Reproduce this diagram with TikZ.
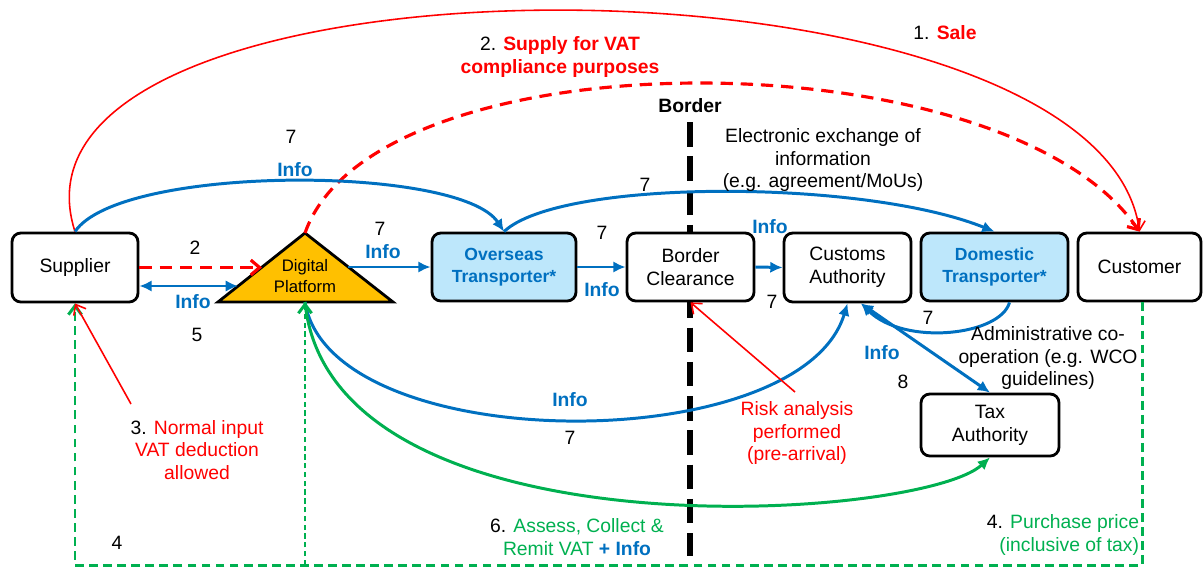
\documentclass[tikz,border=0pt]{standalone}
\usepackage{fontspec}
\setmainfont{Liberation Sans}
\usepackage{xcolor}
\usetikzlibrary{arrows.meta, positioning, calc}

\definecolor{salered}{RGB}{255,0,0}
\definecolor{infoblue}{RGB}{0,112,192}
\definecolor{taxgreen}{RGB}{0,176,80}
\definecolor{platformorange}{RGB}{255,192,0}
\definecolor{carrierblue}{RGB}{189,231,251}

\newcommand{\basefont}{\fontsize{11}{13}\selectfont}
\newcommand{\infotxt}[1]{\textcolor{infoblue}{\textbf{#1}}}
\newcommand{\redtxt}[1]{\textcolor{salered}{#1}}
\newcommand{\greentxt}[1]{\textcolor{taxgreen}{#1}}

\tikzset{
  party/.style={draw, line width=1.6pt, rounded corners=5pt, fill=white, align=center},
  carrier/.style={party, fill=carrierblue, text=infoblue, font=\fontsize{10}{12.5}\selectfont\bfseries},
  infoarrow/.style={draw=infoblue, line width=1.7pt, -{Latex[length=7pt,width=6.5pt]}},
  infoboth/.style={infoarrow, {Latex[length=7pt,width=6.5pt]}-{Latex[length=7pt,width=6.5pt]}},
  salearrow/.style={draw=salered, line width=0.9pt, -{Straight Barb[length=5pt,width=8pt]}},
  supplyarrow/.style={draw=salered, line width=1.8pt, dash pattern=on 7pt off 4.5pt, -{Straight Barb[length=5pt,width=8.5pt]}},
  payarrow/.style={draw=taxgreen, line width=1.7pt, dash pattern=on 5pt off 3pt, -{Straight Barb[length=5pt,width=7.5pt]}},
  remitarrow/.style={draw=taxgreen, line width=1.7pt, -{Latex[length=7pt,width=6.5pt]}},
  infolbl/.style={text=infoblue, font=\basefont\bfseries}
}

\begin{document}
\begin{tikzpicture}[x=0.02cm, y=0.02cm, font=\basefont]
  \useasboundingbox (0,0) rectangle (1203,-568);

  % Border
  \draw[line width=3.4pt, dash pattern=on 14pt off 5.5pt] (690,-122) -- (690,-556);
  \node[font=\basefont\bfseries] (borderlbl) at (690,-106) {Border};

  % Parties
  \node[party, minimum width=2.52cm, minimum height=1.38cm] (sup) at (75,-267.5) {Supplier};
  \node[carrier, minimum width=2.88cm, minimum height=1.36cm] (ot) at (504,-267) {Overseas\\Transporter*};
  \node[party, minimum width=2.54cm, minimum height=1.36cm] (bc) at (690.5,-267) {Border\\Clearance};
  \node[party, minimum width=2.54cm, minimum height=1.38cm] (ca) at (847.5,-267.5) {Customs\\Authority};
  \node[carrier, minimum width=2.94cm, minimum height=1.36cm] (dt) at (994.5,-267) {Domestic\\Transporter*};
  \node[party, minimum width=2.46cm, minimum height=1.36cm] (cu) at (1139.5,-267) {Customer};
  \node[party, minimum width=2.76cm, minimum height=1.24cm] (ta) at (990,-425) {Tax\\Authority};

  % Digital platform
  \draw[line width=1.6pt, fill=platformorange] (218,-302) -- (305,-233) coordinate (dptop) -- (393,-302) -- cycle;
  \node[align=center, font=\fontsize{9.5}{11.5}\selectfont] (dp) at (305,-276) {Digital\\Platform};
  \coordinate (dpbot) at (305,-302);
  \coordinate (dpleft) at (262,-267.5);
  \coordinate (dpinfo) at (238,-286);
  \coordinate (dpright) at (348,-267);

  % 1. sale, 2. supply
  \draw[salearrow] (sup.north) .. controls +(-95,295) and +(-40,295) .. (cu.north);
  \draw[supplyarrow] (dptop) .. controls +(70,200) and +(-135,197) .. (cu.north);
  \draw[supplyarrow] (sup.east) -- (dpleft);

  % Info flows
  \draw[infoboth] (sup.east |- dpinfo) -- (dpinfo);
  \draw[infoarrow] (dpright) -- (ot.west);
  \draw[infoarrow] (sup.north) .. controls +(45,67) and +(-44,67) .. (ot.north);
  \draw[infoarrow] (ot.north) .. controls +(56,53) and +(-132,53) .. (dt.north);
  \draw[infoarrow] (ot.east) -- (bc.west);
  \draw[infoarrow] (bc.east) -- (ca.west);
  \draw[infoarrow] ([xshift=0.3cm]dt.south) .. controls +(-9,-33) and +(44,-43) .. ([xshift=0.27cm]ca.south);
  \draw[infoboth] ([xshift=0.27cm]ca.south) -- (ta.north);
  \draw[infoarrow] (dpbot) .. controls +(25,-156) and +(-47,-156) .. (ca.south);

  % 6. remit
  \draw[remitarrow] (dpbot) .. controls +(25,-258) and +(-70,-64) .. (ta.south);

  % 4. purchase price
  \coordinate (paycorner) at (75,-565);
  \draw[payarrow] ([xshift=0.06cm]cu.south) |- (paycorner) -- (sup.south);
  \draw[payarrow, dash pattern=on 3pt off 2pt] (dpbot |- paycorner) -- (dpbot);

  % 3. and risk notes
  \coordinate (note3) at (131,-404);
  \draw[salearrow] (note3) -- (sup.south);
  \coordinate (riskfrom) at (795,-392);
  \draw[salearrow] (riskfrom) -- (bc.south);

  % Labels
  \node (lsale) at (945,-33) {1. \redtxt{\textbf{Sale}}};
  \node[align=center] (lsupply) at (560,-57) {2. \redtxt{\textbf{Supply for VAT}}\\\redtxt{\textbf{compliance purposes}}};
  \node[align=center] (lexchange) at (823,-160) {Electronic exchange of\\information\\(e.g. agreement/MoUs)};
  \node (n7a) at (291,-137) {7};
  \node[infolbl] (i7a) at (295,-170) {Info};
  \node (n7b) at (645,-185) {7};
  \node (n7c) at (380,-229) {7};
  \node[infolbl] (i7c) at (383,-252) {Info};
  \node (n2) at (195,-248) {2};
  \node[infolbl] (i5) at (193,-302) {Info};
  \node (n5) at (197,-335) {5};
  \node (n7d) at (602,-233) {7};
  \node[infolbl] (i7d) at (602,-290) {Info};
  \node[infolbl] (i7b) at (770,-227) {Info};
  \node (n7e) at (772,-302) {7};
  \node (n7f) at (928,-318) {7};
  \node[align=center] (ladmin) at (1048,-358) {Administrative co-\\operation (e.g. WCO\\guidelines)};
  \node[infolbl] (i8) at (882,-353) {Info};
  \node (n8) at (903,-382) {8};
  \node[infolbl] (i7g) at (570,-400) {Info};
  \node (n7g) at (570,-438) {7};
  \node[align=center, text=salered] (lrisk) at (797,-433) {Risk analysis\\performed\\(pre-arrival)};
  \node[align=center] (lnormal) at (197,-450) {3. \redtxt{Normal input}\\\redtxt{VAT deduction}\\\redtxt{allowed}};
  \node[align=center] (lremit) at (577,-537) {6. \greentxt{Assess, Collect \&}\\\greentxt{Remit VAT} \infotxt{+ Info}};
  \node[align=right] (lprice) at (1063,-535) {4. \greentxt{Purchase price}\\\greentxt{(inclusive of tax)}};
  \node (n4) at (117,-543) {4};

\end{tikzpicture}
\end{document}
